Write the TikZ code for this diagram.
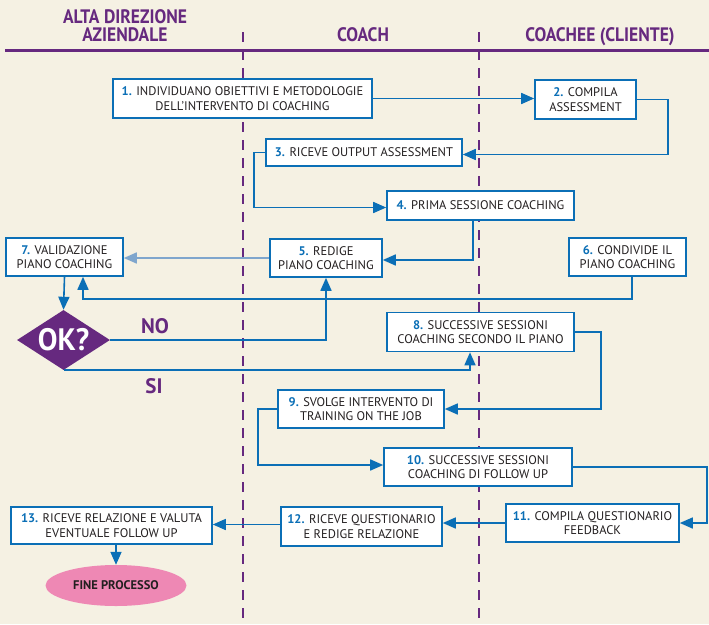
\documentclass[tikz,border=0pt]{standalone}
\usepackage{fontspec}
\setmainfont{PT Sans}
\newfontfamily\hdfont{PT Sans}[FakeStretch=0.9]
\newfontfamily\okfont{PT Sans}[FakeStretch=0.95]
\usetikzlibrary{arrows.meta,shapes.geometric}
\definecolor{bg}{HTML}{F5F1E3}
\definecolor{cpurple}{HTML}{66297F}
\definecolor{cblue}{HTML}{0B6FB6}
\definecolor{clight}{HTML}{7FA6CD}
\definecolor{cpink}{HTML}{EE88B4}
\definecolor{ctext}{HTML}{231F20}
\newcommand{\nb}[1]{\textcolor{cblue}{\textbf{#1}}}
\begin{document}
\begin{tikzpicture}[x=1pt,y=-1pt,
  box/.style={draw=cblue, line width=1.6pt, fill=white, align=center, inner sep=0pt,
    text=ctext, font=\fontsize{12.5}{14.3}\selectfont},
  arr/.style={draw=cblue, line width=1.6pt, -{Triangle[length=13pt,width=11pt]}},
  lightarr/.style={draw=clight, line width=1.6pt, -{Triangle[length=13pt,width=11pt]}},
  lane/.style={draw=cpurple, line width=1.6pt, dash pattern=on 10pt off 8pt},
  hd/.style={text=cpurple, font=\hdfont\bfseries\fontsize{19.5}{20}\selectfont, inner sep=0pt,
    text height=13.5pt, text depth=0pt},
  lbl/.style={text=cpurple, font=\bfseries\fontsize{21}{21}\selectfont, inner sep=0pt}]
\fill[bg] (0,0) rectangle (709,624);
\useasboundingbox (0,0) rectangle (709,624);
% lanes
\draw[lane] (243,32) -- (243,624);
\draw[lane] (479,32) -- (479,624);
\draw[cpurple, line width=3pt] (5,50) -- (709,50);
\node[hd] (h1a) at (125,16.5) {ALTA DIREZIONE};
\node[hd] (h1b) at (125,35) {AZIENDALE};
\node[hd] (h2) at (363,35) {COACH};
\node[hd] (h3) at (600,35) {COACHEE (CLIENTE)};
% boxes
\node[box, minimum width=259pt, minimum height=39pt] (b1) at (242.5,98.5) {\nb{1.} INDIVIDUANO OBIETTIVI E METODOLOGIE\\DELL’INTERVENTO DI COACHING};
\node[box, minimum width=101pt, minimum height=39pt] (b2) at (585.5,99.5) {\nb{2.} COMPILA\\ASSESSMENT};
\node[box, minimum width=196pt, minimum height=27pt] (b3) at (364,152.5) {\nb{3.} RICEVE OUTPUT ASSESSMENT};
\node[box, minimum width=187pt, minimum height=29pt] (b4) at (480.5,205.5) {\nb{4.} PRIMA SESSIONE COACHING};
\node[box, minimum width=112pt, minimum height=38pt] (b5) at (326,258) {\nb{5.} REDIGE\\PIANO COACHING};
\node[box, minimum width=117pt, minimum height=38pt] (b6) at (627.5,257) {\nb{6.} CONDIVIDE IL\\PIANO COACHING};
\node[box, minimum width=117pt, minimum height=38pt] (b7) at (64.5,257) {\nb{7.} VALIDAZIONE\\PIANO COACHING};
\node[diamond, fill=cpurple, minimum width=93pt, minimum height=60pt, inner sep=0pt] (ok) at (63.5,340) {};
\node[text=white, inner sep=0pt, font=\okfont\bfseries\fontsize{31}{31}\selectfont] (oktxt) at (ok.center) {OK?};
\node[box, minimum width=187pt, minimum height=39pt] (b8) at (480.5,332) {\nb{8.} SUCCESSIVE SESSIONI\\COACHING SECONDO IL PIANO};
\node[box, minimum width=166pt, minimum height=38pt] (b9) at (361,409) {\nb{9.} SVOLGE INTERVENTO DI\\TRAINING ON THE JOB};
\node[box, minimum width=188pt, minimum height=38pt] (b10) at (478,467) {\nb{10.} SUCCESSIVE SESSIONI\\COACHING DI FOLLOW UP};
\node[box, minimum width=173pt, minimum height=38pt] (b11) at (592.5,523) {\nb{11.} COMPILA QUESTIONARIO\\FEEDBACK};
\node[box, minimum width=161pt, minimum height=39pt] (b12) at (361.5,526.5) {\nb{12.} RICEVE QUESTIONARIO\\E REDIGE RELAZIONE};
\node[box, minimum width=201pt, minimum height=37pt] (b13) at (111.5,525.5) {\nb{13.} RICEVE RELAZIONE E VALUTA\\EVENTUALE FOLLOW UP};
\node[ellipse, fill=cpink, minimum width=141pt, minimum height=41pt, inner sep=0pt,
  font=\bfseries\fontsize{12.5}{12.5}\selectfont, text=ctext] (fine) at (116,585.5) {FINE PROCESSO};
% labels
\node[lbl] (no) at (155,326) {NO};
\node[lbl] (si) at (154,386) {SI};
% connectors
\draw[arr] (b1.east) -- (b1.east -| b2.west);
\draw[arr] (b2.east) -- ++(31,0) |- ([yshift=-2pt]b3.east);
\draw[arr] (b3.west) -- ++(-11,0) |- ([yshift=-2pt]b4.west);
\draw[arr] ([xshift=-7.5pt]b4.south) |- ([yshift=-2pt]b5.east);
\draw[lightarr] (b5.west) -- (b5.west -| b7.east);
\draw[arr] ([xshift=4.5pt]b6.south) -- ++(0,22) -| ([xshift=18.5pt]b7.south);
\draw[arr] (b7.south) -- (ok.north);
\draw[arr] (ok.east) -| (b5.south);
\draw[arr] (ok.south) -| ([xshift=-10.5pt]b8.south);
\draw[arr] (b8.east) -- ++(26,0) |- (b9.east);
\draw[arr] (b9.west) -- ++(-19,0) |- ([yshift=2pt]b10.west);
\draw[arr] (b10.east) -- ++(134,0) |- (b11.east);
\draw[arr] (b11.west) -- (b11.west -| b12.east);
\draw[arr] ([yshift=2pt]b12.west) -- ([yshift=2pt]b12.west -| b13.east);
\draw[arr] (b13.south -| fine.north) -- (fine.north);
\end{tikzpicture}
\end{document}
